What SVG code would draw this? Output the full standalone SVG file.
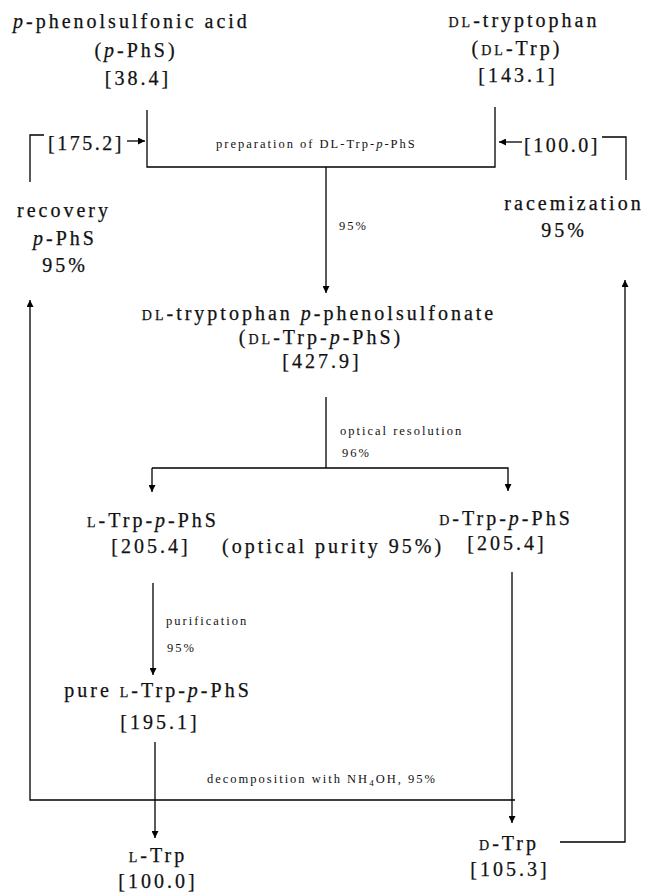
<svg xmlns="http://www.w3.org/2000/svg" width="648" height="894" viewBox="0 0 648 894">
<defs>
<marker id="ah" viewBox="0 0 10 10" refX="10" refY="5" markerWidth="8" markerHeight="7" markerUnits="userSpaceOnUse" orient="auto">
<path d="M0,0 L10,5 L0,10 z" fill="#000"/>
</marker>
</defs>
<style>
text{fill:#111;font-family:"Liberation Serif","Times New Roman",serif}
.m{font-size:20px;letter-spacing:3px;stroke:#111;stroke-width:0.25}
.b{letter-spacing:2.5px}
.s{font-size:12.5px;letter-spacing:2px}
.sc{font-size:14px}
.i{font-style:italic}
.c{text-anchor:middle}
.ln{stroke:#000;stroke-width:1.3;fill:none}
</style>
<rect width="648" height="894" fill="#fff"/>
<g id="connectors">
<polyline class="ln" points="147,110 147,167 495,167 495,107"/>
<line class="ln" x1="326" y1="167" x2="326" y2="293" marker-end="url(#ah)"/>
<line class="ln" x1="127" y1="141" x2="145" y2="141" marker-end="url(#ah)"/>
<line class="ln" x1="522" y1="142" x2="499" y2="142" marker-end="url(#ah)"/>
<polyline class="ln" points="44,135 30,135 30,182"/>
<polyline class="ln" points="602,137 626,137 626,180"/>
<line class="ln" x1="326" y1="397" x2="326" y2="468"/>
<polyline class="ln" points="152,468 508,468 508,491" marker-end="url(#ah)"/>
<line class="ln" x1="152" y1="468" x2="152" y2="492" marker-end="url(#ah)"/>
<line class="ln" x1="153" y1="583" x2="153" y2="675" marker-end="url(#ah)"/>
<line class="ln" x1="512" y1="572" x2="512" y2="823" marker-end="url(#ah)"/>
<line class="ln" x1="155" y1="742" x2="155" y2="838" marker-end="url(#ah)"/>
<polyline class="ln" points="515,800 30,800 30,300" marker-end="url(#ah)"/>
<polyline class="ln" points="560,842 625,842 625,280" marker-end="url(#ah)"/>
</g>
<g id="pphs">
<text class="m" x="13" y="28"><tspan class="i">p</tspan>-phenolsulfonic acid</text>
<text class="m c" x="136" y="57">(<tspan class="i">p</tspan>-PhS)</text>
<text class="m c" x="138" y="85">[38.4]</text>
</g>
<g id="dltrp">
<text class="m c" x="524" y="27"><tspan class="sc">DL</tspan>-tryptophan</text>
<text class="m c" x="517" y="55">(<tspan class="sc">DL</tspan>-Trp)</text>
<text class="m c" x="518" y="82">[143.1]</text>
</g>
<g id="recycle-left">
<text class="m b" x="48" y="150">[175.2]</text>
</g>
<g id="recycle-right">
<text class="m b" x="524" y="152">[100.0]</text>
</g>
<g id="prep">
<text class="s" x="216" y="148">preparation of DL-Trp-<tspan class="i">p</tspan>-PhS</text>
<text class="s" x="339" y="230">95%</text>
</g>
<g id="recovery">
<text class="m c" x="64" y="217">recovery</text>
<text class="m c" x="65" y="245"><tspan class="i">p</tspan>-PhS</text>
<text class="m c" x="65" y="272">95%</text>
</g>
<g id="racemization">
<text class="m c" x="574" y="210">racemization</text>
<text class="m c" x="564" y="237">95%</text>
</g>
<g id="dlsalt">
<text class="m c" x="319" y="320"><tspan class="sc">DL</tspan>-tryptophan <tspan class="i">p</tspan>-phenolsulfonate</text>
<text class="m c" x="321" y="344">(<tspan class="sc">DL</tspan>-Trp-<tspan class="i">p</tspan>-PhS)</text>
<text class="m c" x="322" y="368">[427.9]</text>
</g>
<g id="resolution">
<text class="s" x="340" y="435">optical resolution</text>
<text class="s" x="342" y="457">96%</text>
</g>
<g id="ltrpphs">
<text class="m c" x="153" y="527"><tspan class="sc">L</tspan>-Trp-<tspan class="i">p</tspan>-PhS</text>
<text class="m c" x="151" y="553">[205.4]</text>
</g>
<g id="purity">
<text class="m" x="222" y="553">(optical purity 95%)</text>
</g>
<g id="dtrpphs">
<text class="m c" x="506" y="525"><tspan class="sc">D</tspan>-Trp-<tspan class="i">p</tspan>-PhS</text>
<text class="m c" x="507" y="550">[205.4]</text>
</g>
<g id="purification">
<text class="s" x="166" y="625">purification</text>
<text class="s" x="167" y="652">95%</text>
</g>
<g id="pureltrpphs">
<text class="m c" x="158" y="697">pure <tspan class="sc">L</tspan>-Trp-<tspan class="i">p</tspan>-PhS</text>
<text class="m c" x="160" y="729">[195.1]</text>
</g>
<g id="decomposition">
<text class="s" x="207" y="783">decomposition with NH<tspan font-size="9" dy="3">4</tspan><tspan dy="-3">OH, 95%</tspan></text>
</g>
<g id="ltrp">
<text class="m c" x="158" y="862"><tspan class="sc">L</tspan>-Trp</text>
<text class="m c" x="158" y="888">[100.0]</text>
</g>
<g id="dtrp">
<text class="m c" x="509" y="850"><tspan class="sc">D</tspan>-Trp</text>
<text class="m c" x="510" y="876">[105.3]</text>
</g>
</svg>
